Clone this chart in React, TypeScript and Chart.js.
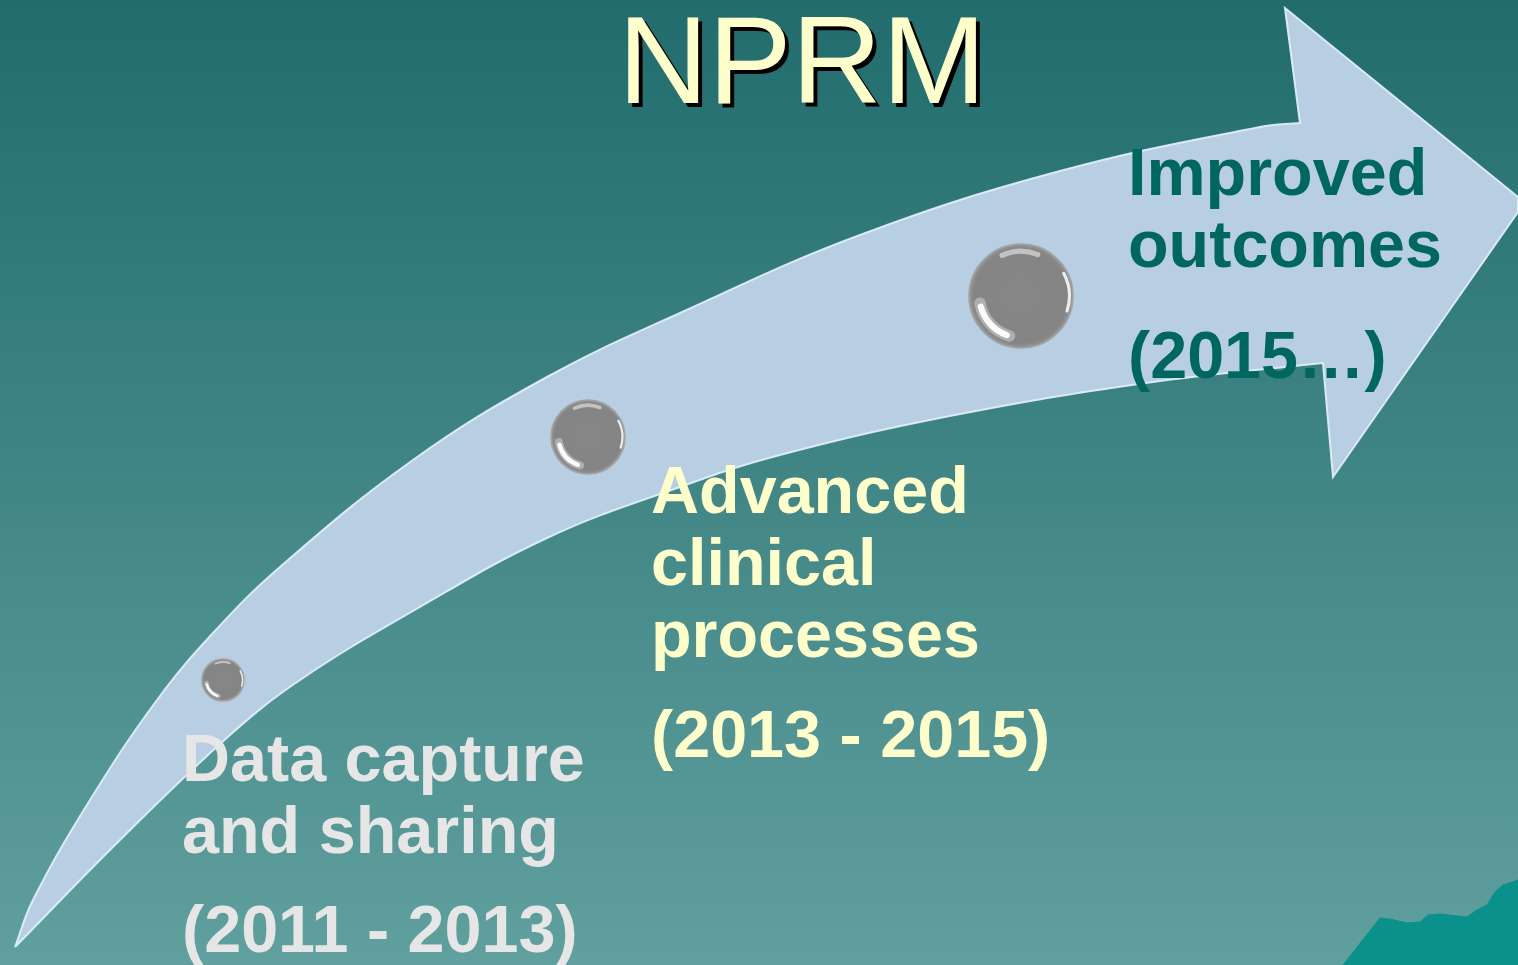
import React, { useEffect, useRef } from "react";
import { Chart, registerables } from "chart.js";

Chart.register(...registerables);

const W = 1518;
const H = 965;

// Curved arrow outline (clockwise from the tail tip; corner points are repeated to keep them sharp)
const arrowX = [
  15, 33, 90, 157, 213, 280, 413, 547, 680, 860, 1060, 1260,
  1300, 1300, 1285, 1285, 1518, 1518, 1518, 1518, 1333, 1333, 1323, 1323,
  1160, 960, 780, 680, 547, 413, 300, 230, 120, 15,
];
const arrowY = [
  947, 900, 800, 700, 633, 567, 460, 377, 313, 235, 171, 127,
  123, 123, 8, 8, 197, 197, 212, 212, 477, 477, 363, 363,
  381, 414, 455, 487, 538, 611, 680, 735, 840, 947,
];

// Teal rock shape in the lower-right corner
const rockX = [1343, 1380, 1390, 1407, 1420, 1428, 1440, 1467, 1477, 1487, 1495, 1503, 1518, 1518, 1343];
const rockY = [965, 918, 919, 923, 922, 915, 914, 917, 910, 905, 892, 885, 880, 965, 965];

// Milestone bubbles
const milestoneX = [223, 588, 1021];
const milestoneY = [680, 437, 296];
const milestoneR = [21, 37, 52];

// Texts
const titleText = "NPRM";
const stage1Lines = ["Data capture", "and sharing", "(2011 - 2013)"];
const stage2Lines = ["Advanced", "clinical", "processes", "(2013 - 2015)"];
const stage3Lines = ["Improved", "outcomes", "(2015\u2026)"];

// Layout of text blocks (positions / styles)
const textBlocks = [
  { lines: stage1Lines, x: 182, baselines: [781, 853, 952], color: "#e6e6e6" },
  { lines: stage2Lines, x: 651, baselines: [513, 585, 657, 757], color: "#ffffcc" },
  { lines: stage3Lines, x: 1128, baselines: [195, 267, 378], color: "#006660" },
];

const FONT = '"Liberation Sans", Arial, Helvetica, sans-serif';

const backgroundPlugin = {
  id: "slideBackground",
  beforeDraw(chart: any) {
    const { ctx, width, height } = chart;
    ctx.save();
    const g = ctx.createLinearGradient(0, 0, 0, height);
    g.addColorStop(0, "rgb(34,108,109)");
    g.addColorStop(1, "rgb(96,160,158)");
    ctx.fillStyle = g;
    ctx.fillRect(0, 0, width, height);
    ctx.restore();
  },
};

const bubbleShinePlugin = {
  id: "bubbleShine",
  afterDatasetsDraw(chart: any) {
    const ctx = chart.ctx;
    chart.data.datasets.forEach((ds: any, di: number) => {
      if (ds.type !== "bubble") return;
      const meta = chart.getDatasetMeta(di);
      meta.data.forEach((el: any) => {
        const x = el.x;
        const y = el.y;
        const r = el.options.radius;
        const deg = Math.PI / 180;
        ctx.save();
        ctx.beginPath();
        ctx.arc(x, y, r, 0, Math.PI * 2);
        ctx.clip();
        const g = ctx.createRadialGradient(x, y, r * 0.2, x, y, r);
        g.addColorStop(0, "rgba(128,128,128,0)");
        g.addColorStop(0.85, "rgba(120,120,120,0.15)");
        g.addColorStop(1, "rgba(170,170,170,0.6)");
        ctx.fillStyle = g;
        ctx.fillRect(x - r, y - r, 2 * r, 2 * r);
        ctx.lineCap = "round";
        // bottom-left crescent (soft halo + bright core)
        ctx.strokeStyle = "rgba(255,255,255,0.35)";
        ctx.lineWidth = Math.max(4, r * 0.22);
        ctx.beginPath();
        ctx.arc(x, y, r * 0.8, 106 * deg, 170 * deg);
        ctx.stroke();
        ctx.strokeStyle = "rgba(255,255,255,0.95)";
        ctx.lineWidth = Math.max(2.5, r * 0.12);
        ctx.beginPath();
        ctx.arc(x, y, r * 0.8, 110 * deg, 165 * deg);
        ctx.stroke();
        // right edge highlight
        ctx.strokeStyle = "rgba(255,255,255,0.85)";
        ctx.lineWidth = Math.max(1.5, r * 0.06);
        ctx.beginPath();
        ctx.arc(x, y, r * 0.93, -28 * deg, 18 * deg);
        ctx.stroke();
        // top highlight
        ctx.strokeStyle = "rgba(205,205,205,0.85)";
        ctx.lineWidth = Math.max(2, r * 0.1);
        ctx.beginPath();
        ctx.arc(x, y, r * 0.86, 245 * deg, 292 * deg);
        ctx.stroke();
        ctx.restore();
      });
    });
  },
};

const textPlugin = {
  id: "slideTexts",
  afterDraw(chart: any) {
    const ctx = chart.ctx;
    ctx.save();
    ctx.font = `125px ${FONT}`;
    ctx.textAlign = "center";
    ctx.textBaseline = "alphabetic";
    ctx.fillStyle = "#000000";
    ctx.fillText(titleText, 806, 107);
    ctx.fillStyle = "#ffffcc";
    ctx.fillText(titleText, 802, 103);

    ctx.textAlign = "left";
    ctx.font = `bold 66.5px ${FONT}`;
    textBlocks.forEach((b) => {
      ctx.fillStyle = b.color;
      b.lines.forEach((line, i) => {
        ctx.fillText(line, b.x, b.baselines[i]);
      });
    });
    ctx.restore();
  },
};

export default function App() {
  const canvasRef = useRef<HTMLCanvasElement | null>(null);

  useEffect(() => {
    if (!canvasRef.current) return;
    const arrowData = arrowX.map((x, i) => ({ x, y: arrowY[i] }));
    const rockData = rockX.map((x, i) => ({ x, y: rockY[i] }));
    const bubbleData = milestoneX.map((x, i) => ({ x, y: milestoneY[i], r: milestoneR[i] }));

    const chart = new Chart(canvasRef.current, {
      type: "bubble",
      data: {
        datasets: [
          {
            type: "bubble",
            label: "Milestones",
            data: bubbleData,
            backgroundColor: "#868686",
            borderColor: "#a2a2a2",
            borderWidth: 1.5,
            hoverRadius: 0,
            order: 0,
            clip: false,
          } as any,
          {
            type: "line",
            label: "Arrow",
            data: arrowData,
            backgroundColor: "#b8cee3",
            borderColor: "rgba(222,238,250,0.95)",
            borderWidth: 2,
            pointRadius: 0,
            tension: 0.4,
            fill: "shape",
            order: 1,
          } as any,
          {
            type: "line",
            label: "Rock",
            data: rockData,
            backgroundColor: "#0b918b",
            borderColor: "#0b918b",
            borderWidth: 1,
            pointRadius: 0,
            tension: 0,
            fill: "shape",
            order: 2,
          } as any,
        ],
      },
      options: {
        responsive: false,
        maintainAspectRatio: false,
        devicePixelRatio: 1,
        animation: false,
        events: [],
        layout: { padding: 0, autoPadding: false },
        scales: {
          x: { type: "linear", min: 0, max: W, display: false },
          y: { type: "linear", min: 0, max: H, reverse: true, display: false },
        },
        plugins: {
          legend: { display: false },
          tooltip: { enabled: false },
          title: { display: false },
        },
      },
      plugins: [backgroundPlugin, bubbleShinePlugin, textPlugin],
    } as any);

    return () => {
      chart.destroy();
    };
  }, []);

  return (
    <div style={{ position: "fixed", left: 0, top: 0, width: W, height: H, overflow: "hidden" }}>
      <canvas ref={canvasRef} width={W} height={H} style={{ display: "block", width: W, height: H }} />
    </div>
  );
}
